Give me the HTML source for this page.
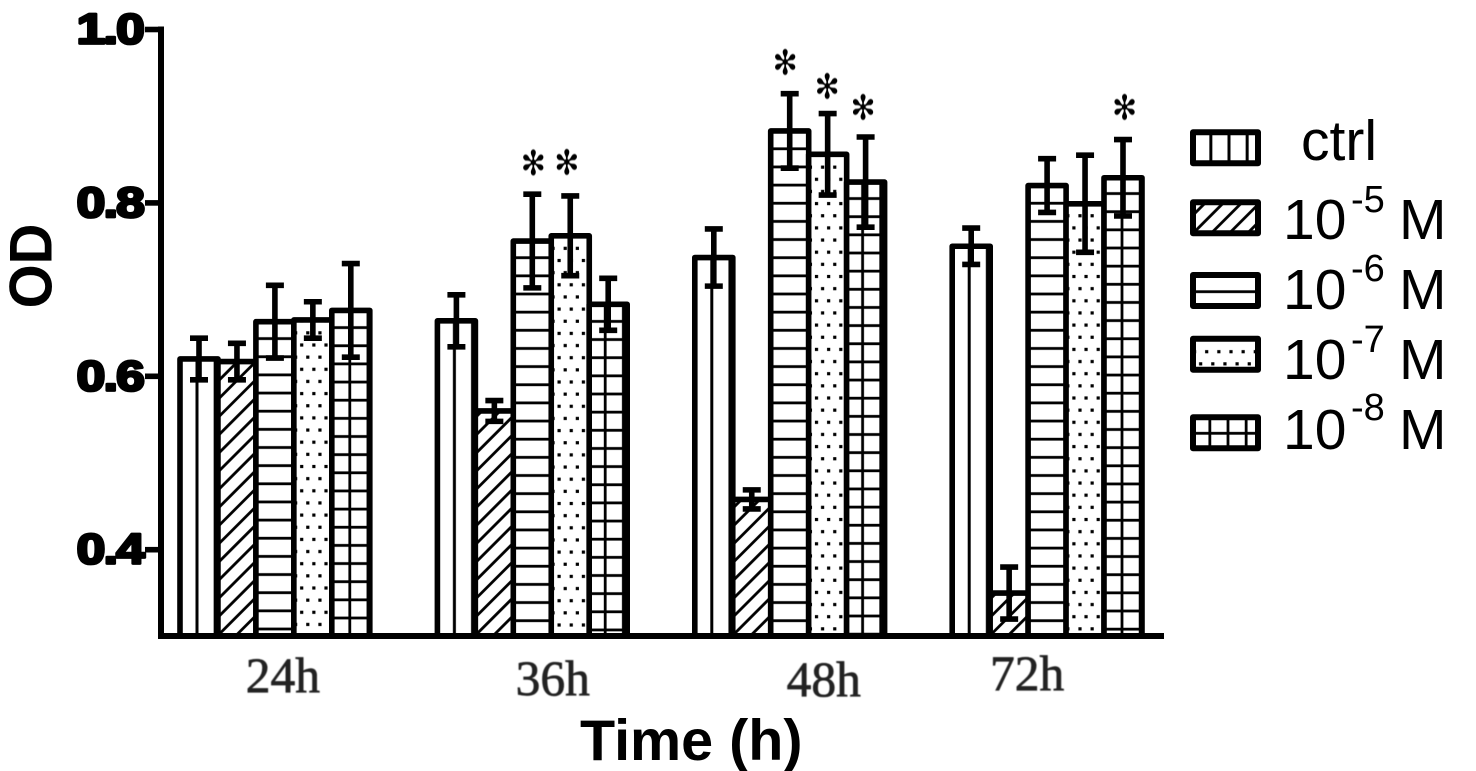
<!DOCTYPE html>
<html lang="en">
<head>
<meta charset="utf-8">
<title>OD over time bar chart</title>
<style>
  html, body { margin: 0; padding: 0; background: #fff; }
  body { width: 1476px; height: 771px; overflow: hidden; }
  svg { display: block; }
  text { font-family: "Liberation Sans", sans-serif; fill: #000; }
</style>
</head>
<body>
<svg id="chart" xmlns="http://www.w3.org/2000/svg" width="1476" height="771" viewBox="0 0 1476 771">
  <defs id="defs">
    <filter id="soft" x="-5%" y="-5%" width="110%" height="110%"><feGaussianBlur stdDeviation="0.6"/></filter>
    <filter id="soft2" x="-10%" y="-10%" width="120%" height="120%"><feGaussianBlur stdDeviation="0.35"/></filter>
  </defs>
</svg>
<script>
// ---------- data ----------
const categories = ['24h', '36h', '48h', '72h'];
const seriesNames = ['ctrl', '10-5 M', '10-6 M', '10-7 M', '10-8 M'];
const ctrlValues = [0.620, 0.664, 0.737, 0.750];
const m5Values   = [0.617, 0.560, 0.458, 0.350];
const m6Values   = [0.663, 0.756, 0.883, 0.820];
const m7Values   = [0.665, 0.762, 0.856, 0.799];
const m8Values   = [0.676, 0.683, 0.824, 0.829];
const ctrlErrors = [0.024, 0.030, 0.033, 0.021];
const m5Errors   = [0.021, 0.012, 0.011, 0.030];
const m6Errors   = [0.042, 0.054, 0.043, 0.031];
const m7Errors   = [0.021, 0.046, 0.047, 0.056];
const m8Errors   = [0.054, 0.030, 0.052, 0.044];
const significantGroups = [1, 1, 2, 2, 2, 3];
const significantSeries = [2, 3, 2, 3, 4, 4];
const yTickValues = [0.4, 0.6, 0.8, 1.0];
const yTickLabels = ['0.4', '0.6', '0.8', '1.0'];

const allValues = [ctrlValues, m5Values, m6Values, m7Values, m8Values];
const allErrors = [ctrlErrors, m5Errors, m6Errors, m7Errors, m8Errors];

// ---------- axis functions ----------
const yScale = v => 29.5 + (1 - v) * 867;
const baseY = 636;
const xScale = (g, s) => 199 + 257.4 * g + 37.95 * s;
const BAR_HALF = 19;

// ---------- helpers ----------
const NS = 'http://www.w3.org/2000/svg';
const svg = document.getElementById('chart');
const defs = document.getElementById('defs');
function make(tag, attrs, parent) {
  const n = document.createElementNS(NS, tag);
  for (const k in attrs) n.setAttribute(k, attrs[k]);
  (parent || svg).appendChild(n);
  return n;
}
let patternCount = 0;
const SP = 18.15;
function hatch(series, ax, ay) {
  const id = 'hatch' + (patternCount++);
  const p = make('pattern', { id: id, patternUnits: 'userSpaceOnUse' }, defs);
  if (series === 0) {
    p.setAttribute('width', SP); p.setAttribute('height', SP);
    p.setAttribute('patternTransform', `translate(${ax - SP / 2} ${ay})`);
    make('rect', { x: SP / 2 - 1.5, y: 0, width: 3, height: SP, fill: '#000' }, p);
  } else if (series === 1) {
    const w = SP / Math.SQRT2;
    p.setAttribute('width', w); p.setAttribute('height', w);
    p.setAttribute('patternTransform', `translate(${ax} ${ay}) rotate(-45) translate(0 ${-w / 2})`);
    make('rect', { x: 0, y: w / 2 - 1.4, width: w, height: 2.8, fill: '#000' }, p);
  } else if (series === 2) {
    p.setAttribute('width', SP); p.setAttribute('height', SP);
    p.setAttribute('patternTransform', `translate(${ax} ${ay - SP / 2})`);
    make('rect', { x: 0, y: SP / 2 - 1.4, width: SP, height: 2.8, fill: '#000' }, p);
  } else if (series === 3) {
    p.setAttribute('width', 12.15); p.setAttribute('height', 24.3);
    p.setAttribute('patternTransform', `translate(${ax - 3} ${ay - 3})`);
    make('rect', { x: 1.4, y: 1.4, width: 3.2, height: 3.2, fill: '#000' }, p);
    make('rect', { x: 7.5, y: 13.55, width: 3.2, height: 3.2, fill: '#000' }, p);
  } else {
    p.setAttribute('width', SP); p.setAttribute('height', SP);
    p.setAttribute('patternTransform', `translate(${ax - SP / 2} ${ay - SP / 2})`);
    make('rect', { x: SP / 2 - 1.4, y: 0, width: 2.8, height: SP, fill: '#000' }, p);
    make('rect', { x: 0, y: SP / 2 - 1.4, width: SP, height: 2.8, fill: '#000' }, p);
  }
  return `url(#${id})`;
}
// hatch phase per group (style only)
const horizPhase = [629, 620.7, 620.7, 620.7];
const gridPhase = [618, 611.8, 616, 611];
const dotPhase = [612.3, 625, 616.7, 616.7];
const gridShift = [-1, -3, -3, -1];
function barHatch(s, g, c) {
  if (s === 0) return hatch(0, c - 2, 0);
  if (s === 1) return hatch(1, c - BAR_HALF + 3.7, 631.7);
  if (s === 2) return hatch(2, 0, horizPhase[g]);
  if (s === 3) return hatch(3, c + 1, dotPhase[g]);
  return hatch(4, c + gridShift[g], gridPhase[g]);
}

// ---------- bars ----------
categories.forEach((cat, g) => {
  seriesNames.forEach((name, s) => {
    const c = xScale(g, s);
    const top = yScale(allValues[s][g]);
    const bg = make('rect', { x: c - BAR_HALF, y: top, width: BAR_HALF * 2, height: baseY - top, fill: '#fff' });
    
    
    const bar = make('rect', {
      x: c - BAR_HALF, y: top, width: BAR_HALF * 2, height: baseY - top,
      fill: barHatch(s, g, c), stroke: '#000', 'stroke-width': 5.6, 'stroke-linejoin': 'round'
    });
    
    
  });
});

// ---------- error bars ----------
categories.forEach((cat, g) => {
  seriesNames.forEach((name, s) => {
    const c = xScale(g, s);
    const hi = yScale(allValues[s][g] + allErrors[s][g]);
    const lo = yScale(allValues[s][g] - allErrors[s][g]);
    const e = make('path', {
      d: `M${c} ${hi}V${lo}M${c - 9} ${hi}H${c + 9}M${c - 9} ${lo}H${c + 9}`,
      fill: 'none', stroke: '#000', 'stroke-width': 5.6
    });
    
    
  });
});

// ---------- significance stars ----------
const starNudgeX = [1, -3.5, -4.5, -0.5, -2.5, 1.5];
const starNudgeY = [-32, -34, -32, -28, -30, -33];
significantGroups.forEach((g, i) => {
  const s = significantSeries[i];
  const hi = yScale(allValues[s][g] + allErrors[s][g]);
  const cx = xScale(g, s) + starNudgeX[i];
  const cy = hi + starNudgeY[i];
  const t = make('text', {
    transform: `translate(${cx} ${cy}) scale(1 1.15)`, y: 11, 'text-anchor': 'middle',
    'font-size': 30, filter: 'url(#soft2)'
  });
  t.style.fontFamily = '"DejaVu Sans", sans-serif';
  t.textContent = '\u273B';
  
  
});

// ---------- axes ----------
const yAxis = make('path', { d: `M161 26.5V639`, stroke: '#000', 'stroke-width': 6, fill: 'none' });


const xAxis = make('path', { d: `M158 ${baseY}H1164`, stroke: '#000', 'stroke-width': 6, fill: 'none' });



yTickValues.forEach((v, i) => {
  const y = yScale(v);
  const tick = make('path', { d: `M145 ${y}H161`, stroke: '#000', 'stroke-width': 5.6, fill: 'none' });
  
  
  const t = make('text', {
    transform: `translate(143 ${y + 14}) scale(1.2 1)`, 'text-anchor': 'end', 'font-size': 43, 'font-weight': 700,
    stroke: '#000', 'stroke-width': 2.8, 'letter-spacing': -1.5, 'stroke-linejoin': 'round'
  });
  t.textContent = yTickLabels[i];
  
  
});

// x category labels (hand-placed in the original, hence the nudges)
const labelNudgeX = [8, 20.5, 34, -20];
const labelBaseline = [692, 695, 696, 690];
categories.forEach((cat, g) => {
  const t = make('text', {
    x: xScale(g, 2) + labelNudgeX[g], y: labelBaseline[g], 'text-anchor': 'middle',
    'font-size': 49.5, filter: 'url(#soft)', stroke: '#222', 'stroke-width': 0.7
  });
  t.style.fontFamily = '"Liberation Serif", serif';
  t.style.fill = '#222';
  t.textContent = cat;
  
  
});

// ---------- axis titles ----------
const xTitle = make('text', { x: 580, y: 760, 'font-size': 57.5, 'font-weight': 700 });
xTitle.textContent = 'Time (h)';


const yTitle = make('text', {
  transform: 'translate(51.5 266) rotate(-90) scale(1 1.06)', 'text-anchor': 'middle',
  'font-size': 56.5, 'font-weight': 700
});
yTitle.textContent = 'OD';



// ---------- legend ----------
const swatchTops = [132.3, 202.3, 275, 338.7, 417.3];
const textBase = [160, 239, 309, 379, 449];
const supBase = [0, 212, 281, 352, 420];
const legendAnchors = [[1229, 0], [1197, 229.3], [0, 291.7], [1206.7, 351.7], [1228, 433.3]];
seriesNames.forEach((name, s) => {
  const a = legendAnchors[s];
  const bg = make('rect', { x: 1193, y: swatchTops[s], width: 65, height: 31, fill: '#fff' });
  
  
  const sw = make('rect', {
    x: 1193, y: swatchTops[s], width: 65, height: 31, fill: hatch(s, a[0], a[1]),
    stroke: '#000', 'stroke-width': 6, 'stroke-linejoin': 'round'
  });
  
  

  const t = make('text', { 'font-size': 57 });
  
  
  if (s === 0) {
    t.setAttribute('x', 1301);
    t.setAttribute('y', textBase[s]);
    t.textContent = name;
  } else {
    const parts = name.split(' ');
    const tenSpan = make('tspan', { x: 1283, y: textBase[s] }, t);
    tenSpan.textContent = parts[0].slice(0, 2);
    const supSpan = make('tspan', { x: 1351, y: supBase[s], 'font-size': 38 }, t);
    supSpan.textContent = parts[0].slice(2);
    const unitSpan = make('tspan', { x: 1399, y: textBase[s] }, t);
    unitSpan.textContent = parts[1];
  }
});
</script>
</body>
</html>
